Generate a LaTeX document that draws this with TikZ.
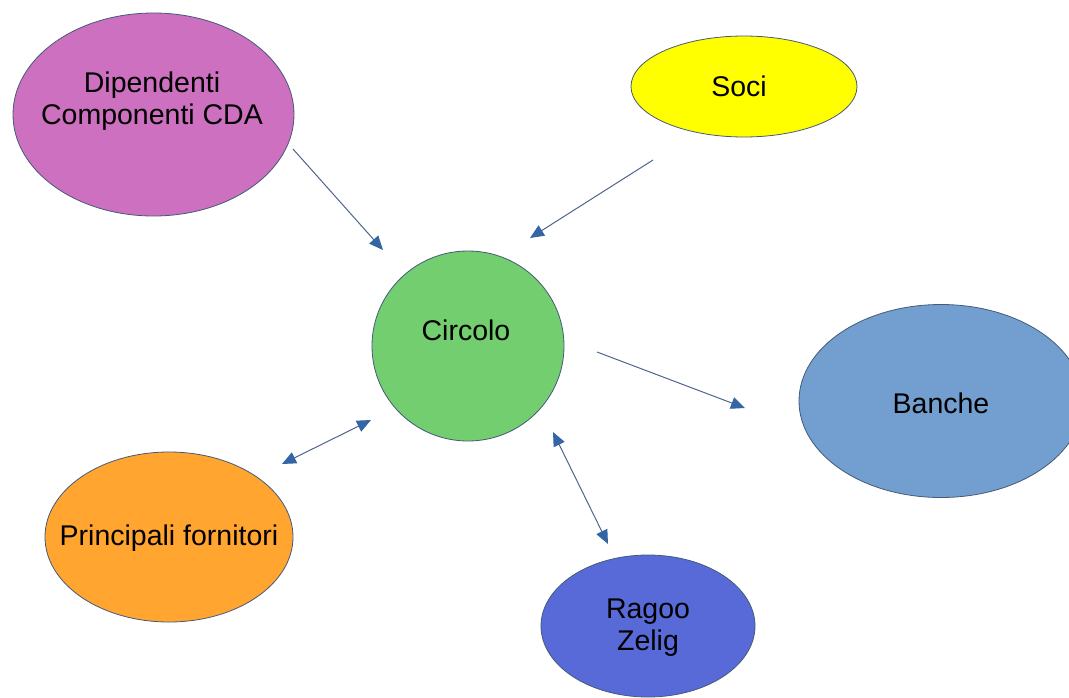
\documentclass[tikz,border=0pt]{standalone}
\usepackage{fontspec}
\setmainfont{Liberation Sans}
\usetikzlibrary{shapes.geometric,arrows.meta}
\definecolor{cpink}{RGB}{204,112,191}
\definecolor{cyellow}{RGB}{255,255,0}
\definecolor{cgreen}{RGB}{115,206,112}
\definecolor{cblue}{RGB}{114,159,207}
\definecolor{corange}{RGB}{255,165,48}
\definecolor{cdblue}{RGB}{88,106,216}
\definecolor{cline}{RGB}{52,101,164}
\definecolor{cshaft}{RGB}{80,100,140}
\definecolor{cedge}{RGB}{70,90,120}
\tikzset{
  ell/.style={ellipse, draw=cedge, line width=0.8pt, inner sep=0pt},
  lbl/.style={font=\fontsize{28.5}{32}\selectfont, align=center, text=black, inner sep=0pt},
  tip/.tip={Triangle[length=14pt,width=12pt,color=cline,fill=cline]},
  conn/.style={draw=cshaft, line width=1pt, -tip},
  dconn/.style={draw=cshaft, line width=1pt, tip-tip}
}
\begin{document}
\begin{tikzpicture}[x=1pt,y=-1pt]
\useasboundingbox[fill=white] (0,0) rectangle (1069,697);
% shapes
\node[ell, fill=cpink, minimum width=281, minimum height=203] (dip) at (153.5,114.5) {};
\node[lbl] (diptext) at (152,101) {Dipendenti\\Componenti CDA};
\node[ell, fill=cyellow, minimum width=226, minimum height=101] (soci) at (744,86.5) {};
\node[lbl] (socitext) at (739,86.5) {Soci};
\node[ell, fill=cgreen, minimum width=192, minimum height=190] (circ) at (468,346) {};
\node[lbl] (circtext) at (466,330) {Circolo};
\node[ell, fill=cblue, minimum width=284, minimum height=193] (banche) at (941,401) {};
\node[lbl] (banchetext) at (941,403) {Banche};
\node[ell, fill=corange, minimum width=248, minimum height=170] (forn) at (169,537) {};
\node[lbl] (forntext) at (169,538) {Principali fornitori};
\node[ell, fill=cdblue, minimum width=214, minimum height=142] (ragoo) at (648,626) {};
\node[lbl] (ragootext) at (648,628) {Ragoo\\Zelig};
% connector ends
\coordinate (a1s) at (293,149);
\coordinate (a1e) at (383,250);
\coordinate (a2s) at (653,160);
\coordinate (a2e) at (530,238);
\coordinate (a3s) at (597,352);
\coordinate (a3e) at (745,408);
\coordinate (a4s) at (371,420);
\coordinate (a4e) at (282,464);
\coordinate (a5s) at (553,432);
\coordinate (a5e) at (608,544);
% connectors
\draw[conn] (a1s) -- (a1e);
\draw[conn] (a2s) -- (a2e);
\draw[conn] (a3s) -- (a3e);
\draw[dconn] (a4s) -- (a4e);
\draw[dconn] (a5s) -- (a5e);
\end{tikzpicture}
\end{document}
